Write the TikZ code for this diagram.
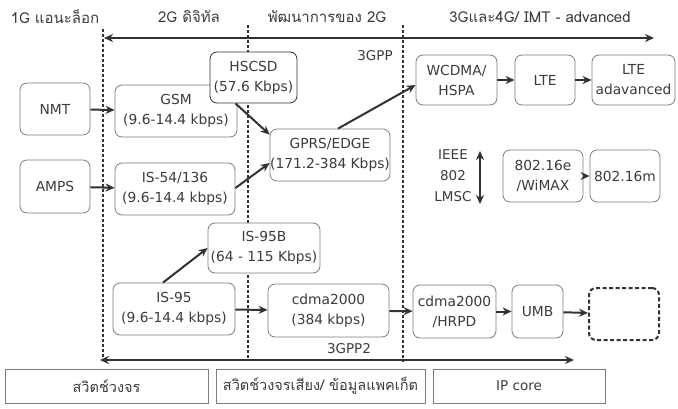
\documentclass[tikz,border=0pt]{standalone}
\usepackage{fontspec}
\setmainfont{DejaVu Sans}
\newfontfamily\thaifont[Script=Thai]{Loma}
\usetikzlibrary{arrows.meta}
\definecolor{inkgray}{RGB}{50,50,50}
\definecolor{boxgray}{RGB}{125,125,125}
\definecolor{textgray}{RGB}{60,60,60}

\tikzset{
  >={Stealth[length=9pt,width=8pt]},
  gen/.style={draw=boxgray, fill=white, line width=0.8pt, rounded corners=7pt, align=center,
    text=textgray, inner sep=0pt, font=\fontsize{13.8}{20}\selectfont},
  layer/.style={draw=boxgray, line width=1pt, align=center, text=textgray,
    inner sep=0pt, font=\thaifont\fontsize{14.5}{16}\selectfont},
  conn/.style={inkgray, line width=2pt, ->},
  eraline/.style={inkgray, line width=1.8pt, dash pattern=on 3pt off 2pt},
  timeline/.style={inkgray, line width=2.6pt, <->},
  hdr/.style={text=textgray, font=\thaifont\fontsize{15}{17}\selectfont},
  body/.style={text=textgray, font=\fontsize{13.5}{21}\selectfont, align=center}
}

\begin{document}
\begin{tikzpicture}[x=1pt,y=-1pt]
  \useasboundingbox (0,0) rectangle (678,408);
  \fill[white] (0,0) rectangle (678,408);

  % --- era boundaries ---
  \coordinate (e1top) at (103,29);  \coordinate (e1bot) at (103,358);
  \coordinate (e2top) at (248,25);  \coordinate (e2bot) at (248,361);
  \coordinate (e3top) at (403,25);  \coordinate (e3bot) at (403,362);
  \draw[eraline] (e1top) -- (e1bot);
  \draw[eraline] (e2top) -- (e2bot);
  \draw[eraline] (e3top) -- (e3bot);

  % --- timeline arrows ---
  \coordinate (gppleft) at (104,38);   \coordinate (gppright) at (654,38);
  \coordinate (gpp2left) at (100,360); \coordinate (gpp2right) at (574,360);
  \draw[timeline] (gppleft) -- (gppright);
  \draw[timeline] (gpp2left) -- (gpp2right);

  % --- era headers ---
  \node[hdr] (h1) at (55,17)  {1G แอนะล็อก};
  \node[hdr] (h2) at (189,17) {2G ดิจิทัล};
  \node[hdr] (h3) at (327,17) {พัฒนาการของ 2G};
  \node[hdr] (h4) at (540,17) {3Gและ4G/ IMT - advanced};
  \node[body] (gpp)  at (375,56)  {3GPP};
  \node[body] (gpp2) at (349,349) {3GPP2};

  % --- 1G ---
  \node[gen, minimum width=70, minimum height=52] (nmt)  at (55,109)   {NMT};
  \node[gen, minimum width=70, minimum height=53] (amps) at (55,186.5) {AMPS};

  % --- 2G ---
  \node[gen, minimum width=122, minimum height=52] (gsm)  at (176,111) {GSM\\(9.6-14.4 kbps)};
  \node[gen, minimum width=120, minimum height=52] (is54) at (175,189) {IS-54/136\\(9.6-14.4 kbps)};
  \node[gen, minimum width=122, minimum height=52] (is95) at (174,309) {IS-95\\(9.6-14.4 kbps)};

  % --- 2G evolution ---
  \node[gen, draw=inkgray, minimum width=87, minimum height=51] (hscsd) at (253.5,77.5) {HSCSD\\(57.6 Kbps)};
  \node[gen, minimum width=120, minimum height=52] (gprs)  at (330,155)   {GPRS/EDGE\\(171.2-384 Kbps)};
  \node[gen, minimum width=112, minimum height=50] (is95b) at (264,248)   {IS-95B\\(64 - 115 Kbps)};
  \node[gen, minimum width=121, minimum height=53] (cdma)  at (328.5,310.5) {cdma2000\\(384 kbps)};

  % --- 3G / 4G ---
  \node[gen, minimum width=81, minimum height=50] (wcdma) at (456.5,80) {WCDMA/\\HSPA};
  \node[gen, minimum width=60, minimum height=50] (lte)   at (545,80)   {LTE};
  \node[gen, minimum width=83, minimum height=50] (ltea)  at (633.5,80) {LTE\\adavanced};
  \node[body] (lmsc) at (453,176) {IEEE\\802\\LMSC};
  \node[gen, minimum width=80, minimum height=52] (wimax) at (543,176) {802.16e\\/WiMAX};
  \node[gen, minimum width=70, minimum height=52] (m16)   at (625,176) {802.16m};
  \node[gen, minimum width=83, minimum height=53] (hrpd)  at (454.5,311.5) {cdma2000\\/HRPD};
  \node[gen, minimum width=51, minimum height=53] (umb)   at (537.5,311.5) {UMB};
  \node[gen, draw=inkgray, line width=2pt, dash pattern=on 4pt off 2.5pt,
        minimum width=70, minimum height=52] (nextgen) at (624,314) {};

  % --- core network layers ---
  \node[layer, minimum width=203, minimum height=34] (circuit) at (106.5,386) {สวิตช์วงจร};
  \node[layer, minimum width=209, minimum height=34] (packet)  at (320.5,386) {สวิตช์วงจรเสียง/ ข้อมูลแพคเก็ต};
  \node[layer, minimum width=172, minimum height=34, font=\fontsize{13.5}{15}\selectfont] (ipcore) at (519,386) {IP core};

  % --- evolution paths ---
  \draw[conn] (nmt) -- (gsm);
  \draw[conn] (amps) -- (is54);
  \draw[conn] ([xshift=-18]hscsd.south) -- ([yshift=-6]gprs.north west);
  \draw[conn] ([yshift=1]is54.east) -- ([yshift=-8]gprs.west);
  \draw[conn] ([xshift=8]gprs.north) -- ([yshift=-5]wcdma.west);
  \draw[conn] (wcdma) -- (lte);
  \draw[conn] (lte) -- (ltea);
  \coordinate (lmscup) at (480,151); \coordinate (lmscdn) at (480,204);
  \draw[conn, <->] (lmscup) -- (lmscdn);
  \draw[conn] (wimax) -- (m16);
  \draw[conn] ([xshift=-11]is95.north) -- (is95b.west);
  \draw[conn] (is95) -- (cdma);
  \draw[conn] (cdma) -- (hrpd);
  \draw[conn] (hrpd) -- (umb);
  \draw[conn] (umb) -- (nextgen);
\end{tikzpicture}
\end{document}
